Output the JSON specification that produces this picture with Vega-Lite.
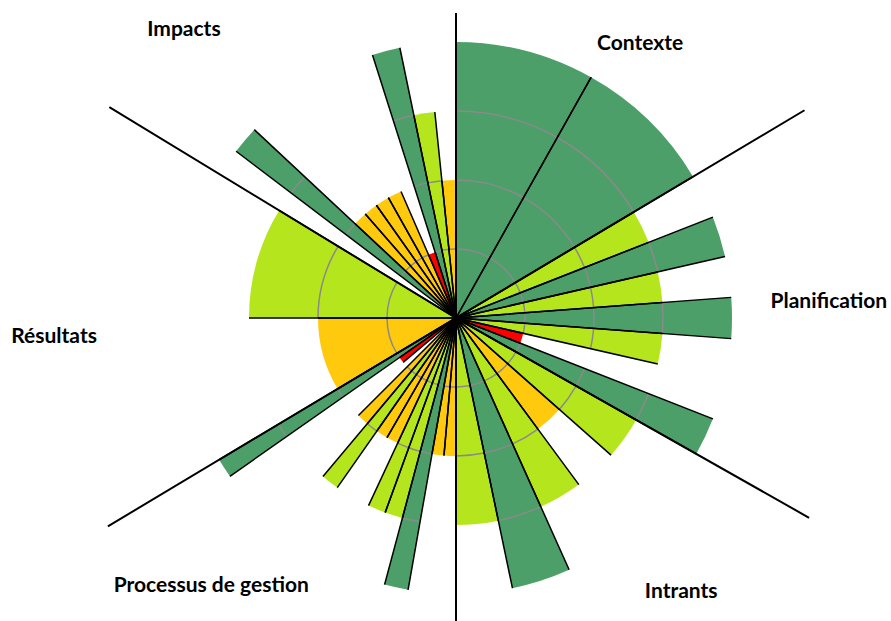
{
  "$schema": "https://vega.github.io/schema/vega-lite/v6.json",
  "width": 870,
  "height": 606,
  "autosize": {"type": "none"},
  "padding": {"left": 21, "top": 15, "right": 0, "bottom": 0},
  "background": "white",
  "config": {"view": {"stroke": null}},
  "datasets": {
    "wedges": [
      {"section": "Contexte", "a0": 0, "a1": 29.3, "level": 4},
      {"section": "Contexte", "a0": 29.3, "a1": 59.2, "level": 4},
      {"section": "Planification", "a0": 59.2, "a1": 68.571, "level": 3},
      {"section": "Planification", "a0": 68.571, "a1": 77.143, "level": 4},
      {"section": "Planification", "a0": 77.143, "a1": 85.714, "level": 3},
      {"section": "Planification", "a0": 85.714, "a1": 94.286, "level": 4},
      {"section": "Planification", "a0": 94.286, "a1": 102.857, "level": 3},
      {"section": "Planification", "a0": 102.857, "a1": 111.429, "level": 1},
      {"section": "Planification", "a0": 111.429, "a1": 119.5, "level": 4},
      {"section": "Intrants", "a0": 119.5, "a1": 131.5, "level": 3},
      {"section": "Intrants", "a0": 131.5, "a1": 143.6, "level": 2},
      {"section": "Intrants", "a0": 143.6, "a1": 155.8, "level": 3},
      {"section": "Intrants", "a0": 155.8, "a1": 168.2, "level": 4},
      {"section": "Intrants", "a0": 168.2, "a1": 180, "level": 3},
      {"section": "Processus de gestion", "a0": 180, "a1": 185, "level": 2},
      {"section": "Processus de gestion", "a0": 185, "a1": 190, "level": 2},
      {"section": "Processus de gestion", "a0": 190, "a1": 195, "level": 4},
      {"section": "Processus de gestion", "a0": 195, "a1": 200, "level": 3},
      {"section": "Processus de gestion", "a0": 200, "a1": 205, "level": 3},
      {"section": "Processus de gestion", "a0": 205, "a1": 210, "level": 2},
      {"section": "Processus de gestion", "a0": 210, "a1": 215, "level": 2},
      {"section": "Processus de gestion", "a0": 215, "a1": 220, "level": 3},
      {"section": "Processus de gestion", "a0": 220, "a1": 225, "level": 2},
      {"section": "Processus de gestion", "a0": 225, "a1": 230, "level": 0},
      {"section": "Processus de gestion", "a0": 230, "a1": 235, "level": 1},
      {"section": "Processus de gestion", "a0": 235, "a1": 239.1, "level": 4},
      {"section": "Résultats", "a0": 239.1, "a1": 270, "level": 2},
      {"section": "Résultats", "a0": 270, "a1": 301.3, "level": 3},
      {"section": "Impacts", "a0": 301.3, "a1": 307.17, "level": 0},
      {"section": "Impacts", "a0": 307.17, "a1": 313.04, "level": 4},
      {"section": "Impacts", "a0": 313.04, "a1": 318.91, "level": 2},
      {"section": "Impacts", "a0": 318.91, "a1": 324.78, "level": 2},
      {"section": "Impacts", "a0": 324.78, "a1": 330.65, "level": 2},
      {"section": "Impacts", "a0": 330.65, "a1": 336.52, "level": 2},
      {"section": "Impacts", "a0": 336.52, "a1": 342.39, "level": 1},
      {"section": "Impacts", "a0": 342.39, "a1": 348.26, "level": 4},
      {"section": "Impacts", "a0": 348.26, "a1": 354.13, "level": 3},
      {"section": "Impacts", "a0": 354.13, "a1": 360, "level": 2}
    ],
    "longAxes": [{"a": 0}, {"a": 180}],
    "diagAxes": [{"a": 59.2}, {"a": 119.5}, {"a": 239.1}, {"a": 301.3}],
    "labels": [
      {"label": "Contexte", "a": 33.7, "r": 4.81},
      {"label": "Planification", "a": 87.2, "r": 5.41},
      {"label": "Intrants", "a": 140.4, "r": 5.12},
      {"label": "Processus de gestion", "a": 222.6, "r": 5.24},
      {"label": "Résultats", "a": 267.6, "r": 5.83},
      {"label": "Impacts", "a": 316.8, "r": 5.76}
    ]
  },
  "layer": [
    {
      "data": {"name": "wedges"},
      "transform": [{"filter": "datum.level > 0"}],
      "mark": {"type": "arc"},
      "encoding": {
        "theta": {"field": "a0", "type": "quantitative", "scale": {"type": "linear", "domain": [0, 360], "range": [0, 6.283185307179586]}},
        "theta2": {"field": "a1"},
        "radius": {"field": "level", "type": "quantitative", "scale": {"type": "linear", "domain": [0, 4], "range": [0, 276]}},
        "color": {"field": "level", "type": "ordinal", "scale": {"domain": [1, 2, 3, 4], "range": ["#ff0000", "#ffc90e", "#b5e61d", "#4c9f69"]}, "legend": null}
      }
    },
    {
      "data": {"name": "wedges"},
      "transform": [{"filter": "datum.level > 1"}],
      "mark": {"type": "arc", "filled": false, "color": "#8a8a8a", "strokeWidth": 1.5},
      "encoding": {
        "theta": {"field": "a0", "type": "quantitative"},
        "theta2": {"field": "a1"},
        "radius": {"datum": 1},
        "radius2": {"datum": 1}
      }
    },
    {
      "data": {"name": "wedges"},
      "transform": [{"filter": "datum.level > 2"}],
      "mark": {"type": "arc", "filled": false, "color": "#8a8a8a", "strokeWidth": 1.5},
      "encoding": {
        "theta": {"field": "a0", "type": "quantitative"},
        "theta2": {"field": "a1"},
        "radius": {"datum": 2},
        "radius2": {"datum": 2}
      }
    },
    {
      "data": {"name": "wedges"},
      "transform": [{"filter": "datum.level > 3"}],
      "mark": {"type": "arc", "filled": false, "color": "#8a8a8a", "strokeWidth": 1.5},
      "encoding": {
        "theta": {"field": "a0", "type": "quantitative"},
        "theta2": {"field": "a1"},
        "radius": {"datum": 3},
        "radius2": {"datum": 3}
      }
    },
    {
      "data": {"name": "wedges"},
      "transform": [{"filter": "datum.level > 0"}],
      "mark": {"type": "arc", "filled": false, "color": "#000000", "strokeWidth": 1.5},
      "encoding": {
        "theta": {"field": "a0", "type": "quantitative"},
        "theta2": {"field": "a0"},
        "radius": {"field": "level", "type": "quantitative"},
        "radius2": {"datum": 0}
      }
    },
    {
      "data": {"name": "wedges"},
      "transform": [{"filter": "datum.level > 0"}],
      "mark": {"type": "arc", "filled": false, "color": "#000000", "strokeWidth": 1.5},
      "encoding": {
        "theta": {"field": "a1", "type": "quantitative"},
        "theta2": {"field": "a1"},
        "radius": {"field": "level", "type": "quantitative"},
        "radius2": {"datum": 0}
      }
    },
    {
      "data": {"name": "longAxes"},
      "mark": {"type": "arc", "filled": false, "color": "#000000", "strokeWidth": 2},
      "encoding": {
        "theta": {"field": "a", "type": "quantitative"},
        "theta2": {"field": "a"},
        "radius": {"datum": 4.42},
        "radius2": {"datum": 0}
      }
    },
    {
      "data": {"name": "diagAxes"},
      "mark": {"type": "arc", "filled": false, "color": "#000000", "strokeWidth": 2},
      "encoding": {
        "theta": {"field": "a", "type": "quantitative"},
        "theta2": {"field": "a"},
        "radius": {"datum": 5.88},
        "radius2": {"datum": 0}
      }
    },
    {
      "data": {"name": "labels"},
      "mark": {"type": "text", "font": "Lato", "fontSize": 21, "fontWeight": "bold", "color": "#000000", "dy": 2},
      "encoding": {
        "theta": {"field": "a", "type": "quantitative", "stack": null},
        "radius": {"field": "r", "type": "quantitative"},
        "text": {"field": "label"}
      }
    }
  ]
}
